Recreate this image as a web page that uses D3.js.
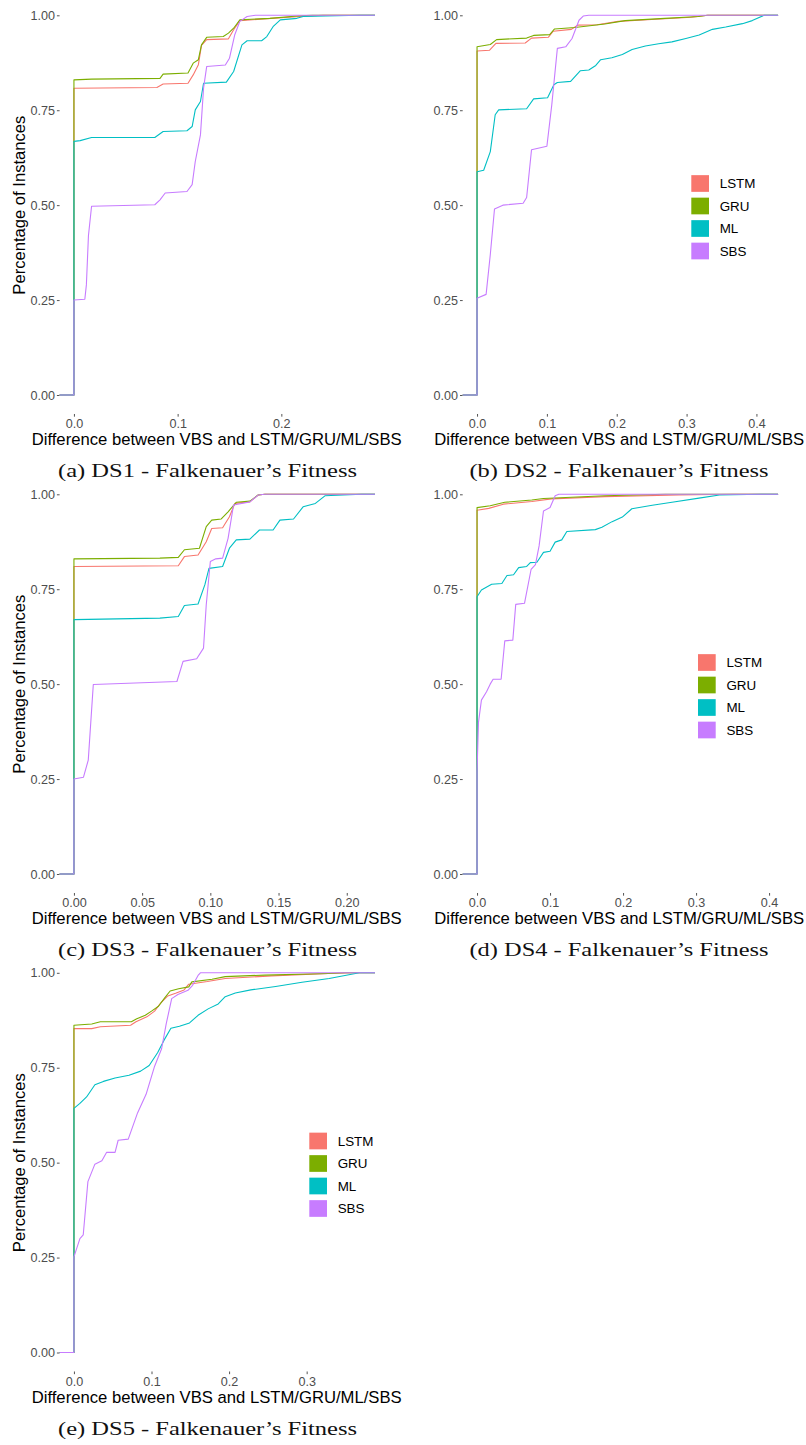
<!DOCTYPE html>
<html>
<head>
<meta charset="utf-8">
<script src="https://cdn.jsdelivr.net/npm/d3@7"></script>
<style>
  html, body { margin: 0; padding: 0; background: #fff; }
  svg { display: block; }
</style>
</head>
<body>
<svg id="chart" width="806" height="1445"></svg>
<script>
// ---------------- DATA ----------------
const methods = ["LSTM", "GRU", "ML", "SBS"];
const methodColors = ["#F8766D", "#7CAE00", "#00BFC4", "#C77CFF"];
const captions = [
  "(a) DS1 - Falkenauer\u2019s Fitness",
  "(b) DS2 - Falkenauer\u2019s Fitness",
  "(c) DS3 - Falkenauer\u2019s Fitness",
  "(d) DS4 - Falkenauer\u2019s Fitness",
  "(e) DS5 - Falkenauer\u2019s Fitness"
];
const xTitle = "Difference between VBS and LSTM/GRU/ML/SBS";
const yTitle = "Percentage of Instances";
const yTicks = [0, 0.25, 0.5, 0.75, 1];
const xTicksDS1 = [0, 0.1, 0.2];
const xTicksDS2 = [0, 0.1, 0.2, 0.3, 0.4];
const xTicksDS3 = [0, 0.05, 0.1, 0.15, 0.2];
const xTicksDS4 = [0, 0.1, 0.2, 0.3, 0.4];
const xTicksDS5 = [0, 0.1, 0.2, 0.3];
const xTickFormats = [".1f", ".1f", ".2f", ".1f", ".1f"];
// maximum observed difference per dataset
const xMaxDS = [0.2765, 0.4105, 0.2102, 0.3927, 0.3696];

// ECDF points [difference, cumulative share]
const ds1_LSTM = [[0,0.808],[0.08,0.810],[0.086,0.819],[0.11,0.821],[0.115,0.843],[0.12,0.870],[0.123,0.921],[0.128,0.936],[0.149,0.938],[0.154,0.962],[0.16,0.986],[0.19,0.992],[0.218,0.997],[0.24,1]];
const ds1_GRU  = [[0,0.830],[0.017,0.832],[0.083,0.834],[0.086,0.845],[0.11,0.848],[0.115,0.874],[0.12,0.883],[0.123,0.922],[0.128,0.942],[0.144,0.944],[0.149,0.953],[0.154,0.966],[0.16,0.988],[0.189,0.992],[0.218,0.999],[0.23,1]];
const ds1_ML   = [[0,0.668],[0.006,0.670],[0.017,0.678],[0.078,0.678],[0.086,0.694],[0.109,0.696],[0.114,0.707],[0.117,0.751],[0.122,0.773],[0.125,0.821],[0.147,0.824],[0.154,0.852],[0.162,0.922],[0.167,0.933],[0.181,0.933],[0.186,0.944],[0.192,0.970],[0.199,0.988],[0.215,0.992],[0.221,0.997],[0.276,1]];
const ds1_SBS  = [[0,0.25],[0.0105,0.252],[0.012,0.29],[0.014,0.42],[0.017,0.497],[0.078,0.501],[0.083,0.514],[0.088,0.532],[0.109,0.536],[0.114,0.554],[0.117,0.615],[0.122,0.685],[0.125,0.808],[0.128,0.865],[0.146,0.869],[0.150,0.887],[0.155,0.948],[0.160,0.984],[0.167,0.997],[0.175,1]];

const ds2_LSTM = [[0,0.906],[0.018,0.908],[0.027,0.926],[0.069,0.927],[0.078,0.940],[0.102,0.942],[0.109,0.958],[0.135,0.963],[0.144,0.974],[0.172,0.975],[0.202,0.984],[0.25,0.989],[0.307,0.995],[0.33,1]];
const ds2_GRU  = [[0,0.917],[0.019,0.923],[0.028,0.936],[0.071,0.940],[0.081,0.947],[0.104,0.949],[0.111,0.964],[0.14,0.968],[0.183,0.977],[0.212,0.986],[0.269,0.992],[0.317,0.997],[0.33,1]];
const ds2_ML   = [[0,0.588],[0.0095,0.592],[0.019,0.641],[0.026,0.738],[0.031,0.751],[0.071,0.754],[0.081,0.780],[0.101,0.783],[0.110,0.817],[0.115,0.823],[0.134,0.826],[0.148,0.854],[0.160,0.856],[0.170,0.868],[0.177,0.883],[0.193,0.888],[0.208,0.897],[0.222,0.910],[0.241,0.919],[0.260,0.925],[0.279,0.930],[0.299,0.939],[0.318,0.948],[0.337,0.963],[0.356,0.969],[0.380,0.978],[0.394,0.986],[0.411,1]];
const ds2_SBS  = [[0,0.255],[0.013,0.265],[0.019,0.37],[0.025,0.49],[0.037,0.50],[0.066,0.505],[0.071,0.52],[0.078,0.646],[0.100,0.655],[0.107,0.764],[0.115,0.913],[0.127,0.917],[0.136,0.939],[0.146,0.987],[0.152,0.998],[0.16,1]];

const ds3_LSTM = [[0,0.810],[0.0765,0.812],[0.081,0.836],[0.091,0.840],[0.097,0.875],[0.101,0.910],[0.109,0.912],[0.114,0.941],[0.118,0.976],[0.129,0.980],[0.135,0.998],[0.14,1]];
const ds3_GRU  = [[0,0.830],[0.063,0.832],[0.0765,0.834],[0.081,0.854],[0.092,0.858],[0.097,0.915],[0.101,0.932],[0.108,0.935],[0.113,0.954],[0.119,0.979],[0.129,0.982],[0.135,0.998],[0.14,1]];
const ds3_ML   = [[0,0.670],[0.063,0.674],[0.0765,0.678],[0.081,0.707],[0.091,0.711],[0.096,0.762],[0.099,0.805],[0.109,0.810],[0.114,0.858],[0.119,0.880],[0.129,0.882],[0.136,0.906],[0.146,0.906],[0.151,0.932],[0.161,0.935],[0.168,0.967],[0.177,0.976],[0.184,0.996],[0.211,1]];
const ds3_SBS  = [[0,0.25],[0.007,0.255],[0.0105,0.30],[0.0142,0.499],[0.0755,0.507],[0.080,0.560],[0.090,0.567],[0.095,0.595],[0.097,0.709],[0.100,0.823],[0.104,0.830],[0.109,0.832],[0.113,0.884],[0.117,0.972],[0.129,0.980],[0.135,0.998],[0.14,1]];

const ds4_LSTM = [[0,0.958],[0.016,0.963],[0.036,0.974],[0.075,0.981],[0.102,0.988],[0.175,0.994],[0.276,0.998],[0.35,1]];
const ds4_GRU  = [[0,0.965],[0.018,0.970],[0.038,0.979],[0.075,0.985],[0.091,0.989],[0.175,0.996],[0.258,1]];
const ds4_ML   = [[0,0.730],[0.006,0.748],[0.020,0.763],[0.034,0.765],[0.041,0.786],[0.050,0.788],[0.057,0.807],[0.068,0.810],[0.073,0.820],[0.082,0.821],[0.091,0.847],[0.100,0.850],[0.107,0.874],[0.116,0.880],[0.123,0.902],[0.162,0.907],[0.171,0.913],[0.185,0.928],[0.199,0.940],[0.212,0.962],[0.240,0.971],[0.267,0.979],[0.304,0.990],[0.332,0.998],[0.39,1]];
const ds4_SBS  = [[0,0.27],[0.002,0.40],[0.006,0.458],[0.013,0.48],[0.018,0.50],[0.022,0.513],[0.033,0.513],[0.038,0.614],[0.049,0.616],[0.053,0.710],[0.065,0.713],[0.074,0.802],[0.080,0.815],[0.085,0.864],[0.091,0.956],[0.100,0.965],[0.107,0.996],[0.112,1]];

const ds5_LSTM = [[0,0.853],[0.023,0.853],[0.034,0.858],[0.073,0.862],[0.080,0.871],[0.094,0.884],[0.104,0.899],[0.112,0.921],[0.121,0.939],[0.131,0.946],[0.142,0.955],[0.148,0.970],[0.172,0.977],[0.195,0.985],[0.255,0.992],[0.328,0.998],[0.36,1]];
const ds5_GRU  = [[0,0.862],[0.023,0.865],[0.034,0.871],[0.074,0.871],[0.081,0.879],[0.092,0.888],[0.100,0.899],[0.109,0.912],[0.117,0.934],[0.124,0.952],[0.135,0.958],[0.148,0.963],[0.152,0.976],[0.178,0.983],[0.195,0.990],[0.246,0.994],[0.328,0.998],[0.35,1]];
const ds5_ML   = [[0,0.643],[0.0077,0.656],[0.0163,0.673],[0.027,0.705],[0.038,0.714],[0.053,0.723],[0.071,0.730],[0.086,0.741],[0.097,0.756],[0.108,0.790],[0.116,0.822],[0.125,0.854],[0.136,0.859],[0.149,0.868],[0.160,0.888],[0.173,0.905],[0.186,0.918],[0.195,0.937],[0.208,0.947],[0.228,0.955],[0.260,0.964],[0.294,0.975],[0.329,0.985],[0.368,1]];
const ds5_SBS  = [[0,0.252],[0.0077,0.30],[0.012,0.31],[0.018,0.45],[0.027,0.496],[0.036,0.505],[0.042,0.527],[0.053,0.527],[0.057,0.559],[0.070,0.562],[0.082,0.631],[0.093,0.680],[0.104,0.754],[0.113,0.800],[0.119,0.866],[0.126,0.932],[0.134,0.943],[0.147,0.954],[0.153,0.967],[0.160,0.993],[0.163,1]];

const seriesByDS = [
  [ds1_LSTM, ds1_GRU, ds1_ML, ds1_SBS],
  [ds2_LSTM, ds2_GRU, ds2_ML, ds2_SBS],
  [ds3_LSTM, ds3_GRU, ds3_ML, ds3_SBS],
  [ds4_LSTM, ds4_GRU, ds4_ML, ds4_SBS],
  [ds5_LSTM, ds5_GRU, ds5_ML, ds5_SBS]
];
const xTicksByDS = [xTicksDS1, xTicksDS2, xTicksDS3, xTicksDS4, xTicksDS5];
const showLegend = [false, true, false, true, true];

// ---------------- LAYOUT ----------------
const colLeft = [59.6, 462.7];       // panel left edge per column
const panelW = 315.4;
const rowY0 = [395, 874, 1352.5];    // pixel of y = 0 per row
const yUnit = 379.7;                 // pixels per 1.0
const legendLeft = [null, 691.3, null, 698, 309.3];
const captionCx = [207.5, 619];
const titleCx = [216.7, 619.2];

const SANS = "'Liberation Sans', Arial, Helvetica, sans-serif";
const SERIF = "'Liberation Serif', 'Times New Roman', serif";

const svg = d3.select("#chart");

seriesByDS.forEach((series, i) => {
  const col = i % 2, row = Math.floor(i / 2);
  const left = colLeft[col], right = left + panelW;
  const y0 = rowY0[row];
  const D = xMaxDS[i];
  const x = d3.scaleLinear().domain([-0.05 * D, 1.05 * D]).range([left, right]);
  const y = d3.scaleLinear().domain([0, 1]).range([y0, y0 - yUnit]);
  const yPad = 0.05 * yUnit;
  const g = svg.append("g");

  // y axis (ticks + labels, no axis line)
  const yAxis = d3.axisLeft(y).tickValues(yTicks).tickFormat(d3.format(".2f"))
    .tickSize(2.7).tickPadding(2);
  const ya = g.append("g").attr("transform", `translate(${left},0)`).call(yAxis);
  ya.select(".domain").remove();
  ya.selectAll(".tick line").attr("stroke", "#555").attr("stroke-width", 1);
  ya.selectAll(".tick text").attr("fill", "#4D4D4D")
    .style("font-family", SANS).style("font-size", "12.6px");

  // x axis
  const xAxis = d3.axisBottom(x).tickValues(xTicksByDS[i]).tickFormat(d3.format(xTickFormats[i]))
    .tickSize(2.7).tickPadding(2.5);
  const xa = g.append("g").attr("transform", `translate(0,${y0 + yPad})`).call(xAxis);
  xa.select(".domain").remove();
  xa.selectAll(".tick line").attr("stroke", "#555").attr("stroke-width", 1);
  xa.selectAll(".tick text").attr("fill", "#4D4D4D")
    .style("font-family", SANS).style("font-size", "12.6px");

  // x title
  g.append("text").attr("x", titleCx[col]).attr("y", y0 + 50)
    .attr("text-anchor", "middle").attr("fill", "#000")
    .attr("textLength", 370).attr("lengthAdjust", "spacingAndGlyphs")
    .style("font-family", SANS).style("font-size", "16.4px").text(xTitle);

  // y title on left column
  if (col === 0) {
    g.append("text")
      .attr("transform", `translate(24.5,${y(0.5)}) rotate(-90)`)
      .attr("text-anchor", "middle").attr("fill", "#000")
      .attr("textLength", 179).attr("lengthAdjust", "spacingAndGlyphs")
      .style("font-family", SANS).style("font-size", "16.4px").text(yTitle);
  }

  // ECDF lines (padded to panel edges like stat_ecdf)
  const line = d3.line().x(d => x(d[0])).y(d => y(d[1]));
  const dom = x.domain();
  series.forEach((pts, k) => {
    const full = [[dom[0], 0], [0, 0]].concat(pts).concat([[dom[1], 1]]);
    g.append("path").datum(full)
      .attr("fill", "none").attr("stroke", methodColors[k])
      .attr("stroke-width", 1.1).attr("stroke-linejoin", "round")
      .attr("d", line);
  });

  // legend
  if (showLegend[i]) {
    const lx = legendLeft[i];
    const ly = y(0.5) - 30;
    methods.forEach((m, k) => {
      g.append("rect").attr("x", lx).attr("y", ly + k * 22.5)
        .attr("width", 17.7).attr("height", 16.7).attr("fill", methodColors[k]);
      g.append("text").attr("x", lx + 28.4).attr("y", ly + k * 22.5 + 8.35)
        .attr("dy", "0.36em").attr("fill", "#000")
        .style("font-family", SANS).style("font-size", "13.4px").text(m);
    });
  }

  // caption
  g.append("text").attr("x", captionCx[col]).attr("y", y0 + 82)
    .attr("text-anchor", "middle").attr("fill", "#111")
    .attr("textLength", 299).attr("lengthAdjust", "spacingAndGlyphs")
    .style("font-family", SERIF).style("font-size", "19px").text(captions[i]);
});
</script>
</body>
</html>
